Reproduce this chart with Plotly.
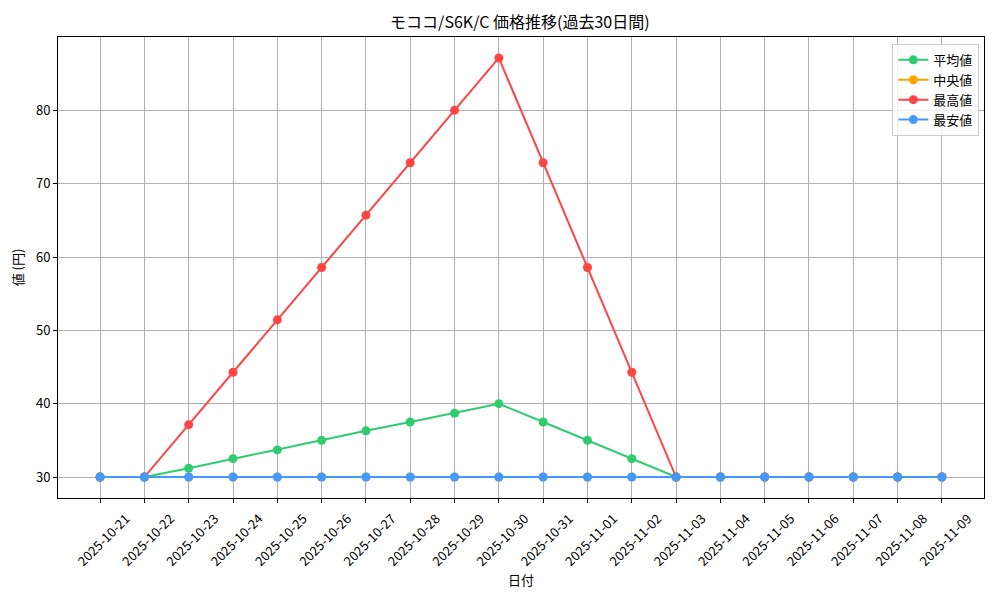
import plotly.graph_objects as go

# Data
dates = ["2025-10-21", "2025-10-22", "2025-10-23", "2025-10-24", "2025-10-25",
         "2025-10-26", "2025-10-27", "2025-10-28", "2025-10-29", "2025-10-30",
         "2025-10-31", "2025-11-01", "2025-11-02", "2025-11-03", "2025-11-04",
         "2025-11-05", "2025-11-06", "2025-11-07", "2025-11-08", "2025-11-09"]
avg_values = [30, 30, 31.2, 32.5, 33.7, 35.0, 36.3, 37.5, 38.7, 40.0,
              37.5, 35.0, 32.5, 30, 30, 30, 30, 30, 30, 30]
median_values = [30] * 20
max_values = [30, 30, 37.14, 44.29, 51.43, 58.57, 65.71, 72.86, 80.0, 87.14,
              72.86, 58.57, 44.29, 30, 30, 30, 30, 30, 30, 30]
min_values = [30] * 20

series = [
    ("平均値", avg_values, "#2ecc71"),
    ("中央値", median_values, "#ffa500"),
    ("最高値", max_values, "#ff4444"),
    ("最安値", min_values, "#4499ff"),
]

font_name = "Noto Sans CJK JP"

fig = go.Figure()
for name, vals, color in series:
    fig.add_trace(go.Scatter(
        x=dates, y=vals, mode="lines+markers", name=name,
        line=dict(color=color, width=2),
        marker=dict(color=color, size=9),
    ))

axis_style = dict(
    showline=True, linecolor="black", linewidth=1, mirror=True,
    showgrid=True, gridcolor="#b0b0b0", gridwidth=1,
    ticks="outside", ticklen=4, tickcolor="black",
    zeroline=False, tickfont=dict(size=13, color="black"),
    automargin=False,
)

# page body has an 8px margin, so the figure is a bit smaller than the window
fig.update_layout(
    width=992, height=592,
    paper_bgcolor="white", plot_bgcolor="white",
    font=dict(family=font_name, color="black"),
    margin=dict(l=50, r=16, t=29, b=102),
    title=dict(text="モココ/S6K/C 価格推移(過去30日間)", x=0.516, xanchor="center",
               y=0.975, yanchor="middle", font=dict(size=16)),
    xaxis=dict(type="category", range=[-0.95, 19.95], tickangle=-45,
               ticklabelshift=26, ticklabelstandoff=3,
               title=dict(text="日付", font=dict(size=13), standoff=5), **axis_style),
    yaxis=dict(range=[27.14, 90], tickvals=[30, 40, 50, 60, 70, 80],
               title=dict(text="値 (円)", font=dict(size=13), standoff=10), **axis_style),
    legend=dict(x=0.995, y=0.985, xanchor="right", yanchor="top",
                bgcolor="rgba(255,255,255,0.8)", bordercolor="#cccccc", borderwidth=1,
                font=dict(size=13), tracegroupgap=0),
    showlegend=True,
)

fig.write_html("out.html")
